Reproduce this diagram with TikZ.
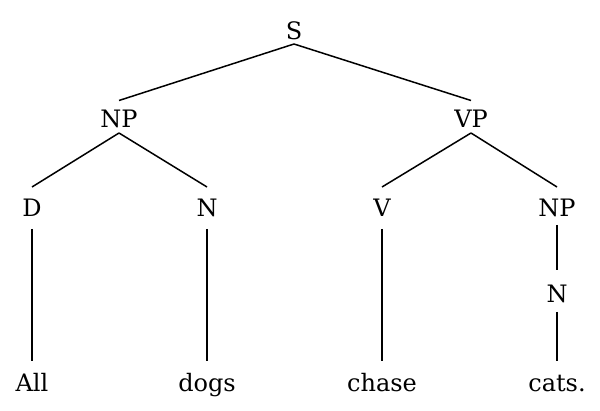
\documentclass[tikz,border=0pt]{standalone}
\usepackage{fontspec}
\setmainfont{DejaVu Serif}
\begin{document}
\begin{tikzpicture}[x=1pt,y=1pt,
  lbl/.style={anchor=base,inner sep=0pt,font=\fontsize{24}{28}\selectfont},
  edge/.style={line width=1.5pt}]
\useasboundingbox (0,0) rectangle (600,410);
% nodes (base points; y = 410 - pixel y)
\node[lbl] (S)   at (294,370) {S};
\node[lbl] (NP)  at (119,282.5) {NP};
\node[lbl] (VP)  at (471,282.5) {VP};
\node[lbl] (D)   at (32,193) {D};
\node[lbl] (N)   at (207,193) {N};
\node[lbl] (V)   at (382,193) {V};
\node[lbl] (NPb) at (557,193) {NP};
\node[lbl] (Nb)  at (557,107) {N};
\node[lbl] (All)   at (32,19) {All};
\node[lbl] (dogs)  at (207,19) {dogs};
\node[lbl] (chase) at (382,19) {chase};
\node[lbl] (cats)  at (557,19) {cats.};
% edges
\draw[edge] ([yshift=-4pt]S.base) -- ([yshift=27pt]NP.base);
\draw[edge] ([yshift=-4pt]S.base) -- ([yshift=27pt]VP.base);
\draw[edge] ([yshift=-5.5pt]NP.base) -- ([yshift=30pt]D.base);
\draw[edge] ([yshift=-5.5pt]NP.base) -- ([yshift=30pt]N.base);
\draw[edge] ([yshift=-5.5pt]VP.base) -- ([yshift=30pt]V.base);
\draw[edge] ([yshift=-5.5pt]VP.base) -- ([yshift=30pt]NPb.base);
\draw[edge] ([yshift=-12pt]D.base) -- ([yshift=30pt]All.base);
\draw[edge] ([yshift=-12pt]N.base) -- ([yshift=30pt]dogs.base);
\draw[edge] ([yshift=-12pt]V.base) -- ([yshift=30pt]chase.base);
\draw[edge] ([yshift=-8pt]NPb.base) -- ([yshift=33pt]Nb.base);
\draw[edge] ([yshift=-9pt]Nb.base) -- ([yshift=30pt]cats.base);
\end{tikzpicture}
\end{document}
